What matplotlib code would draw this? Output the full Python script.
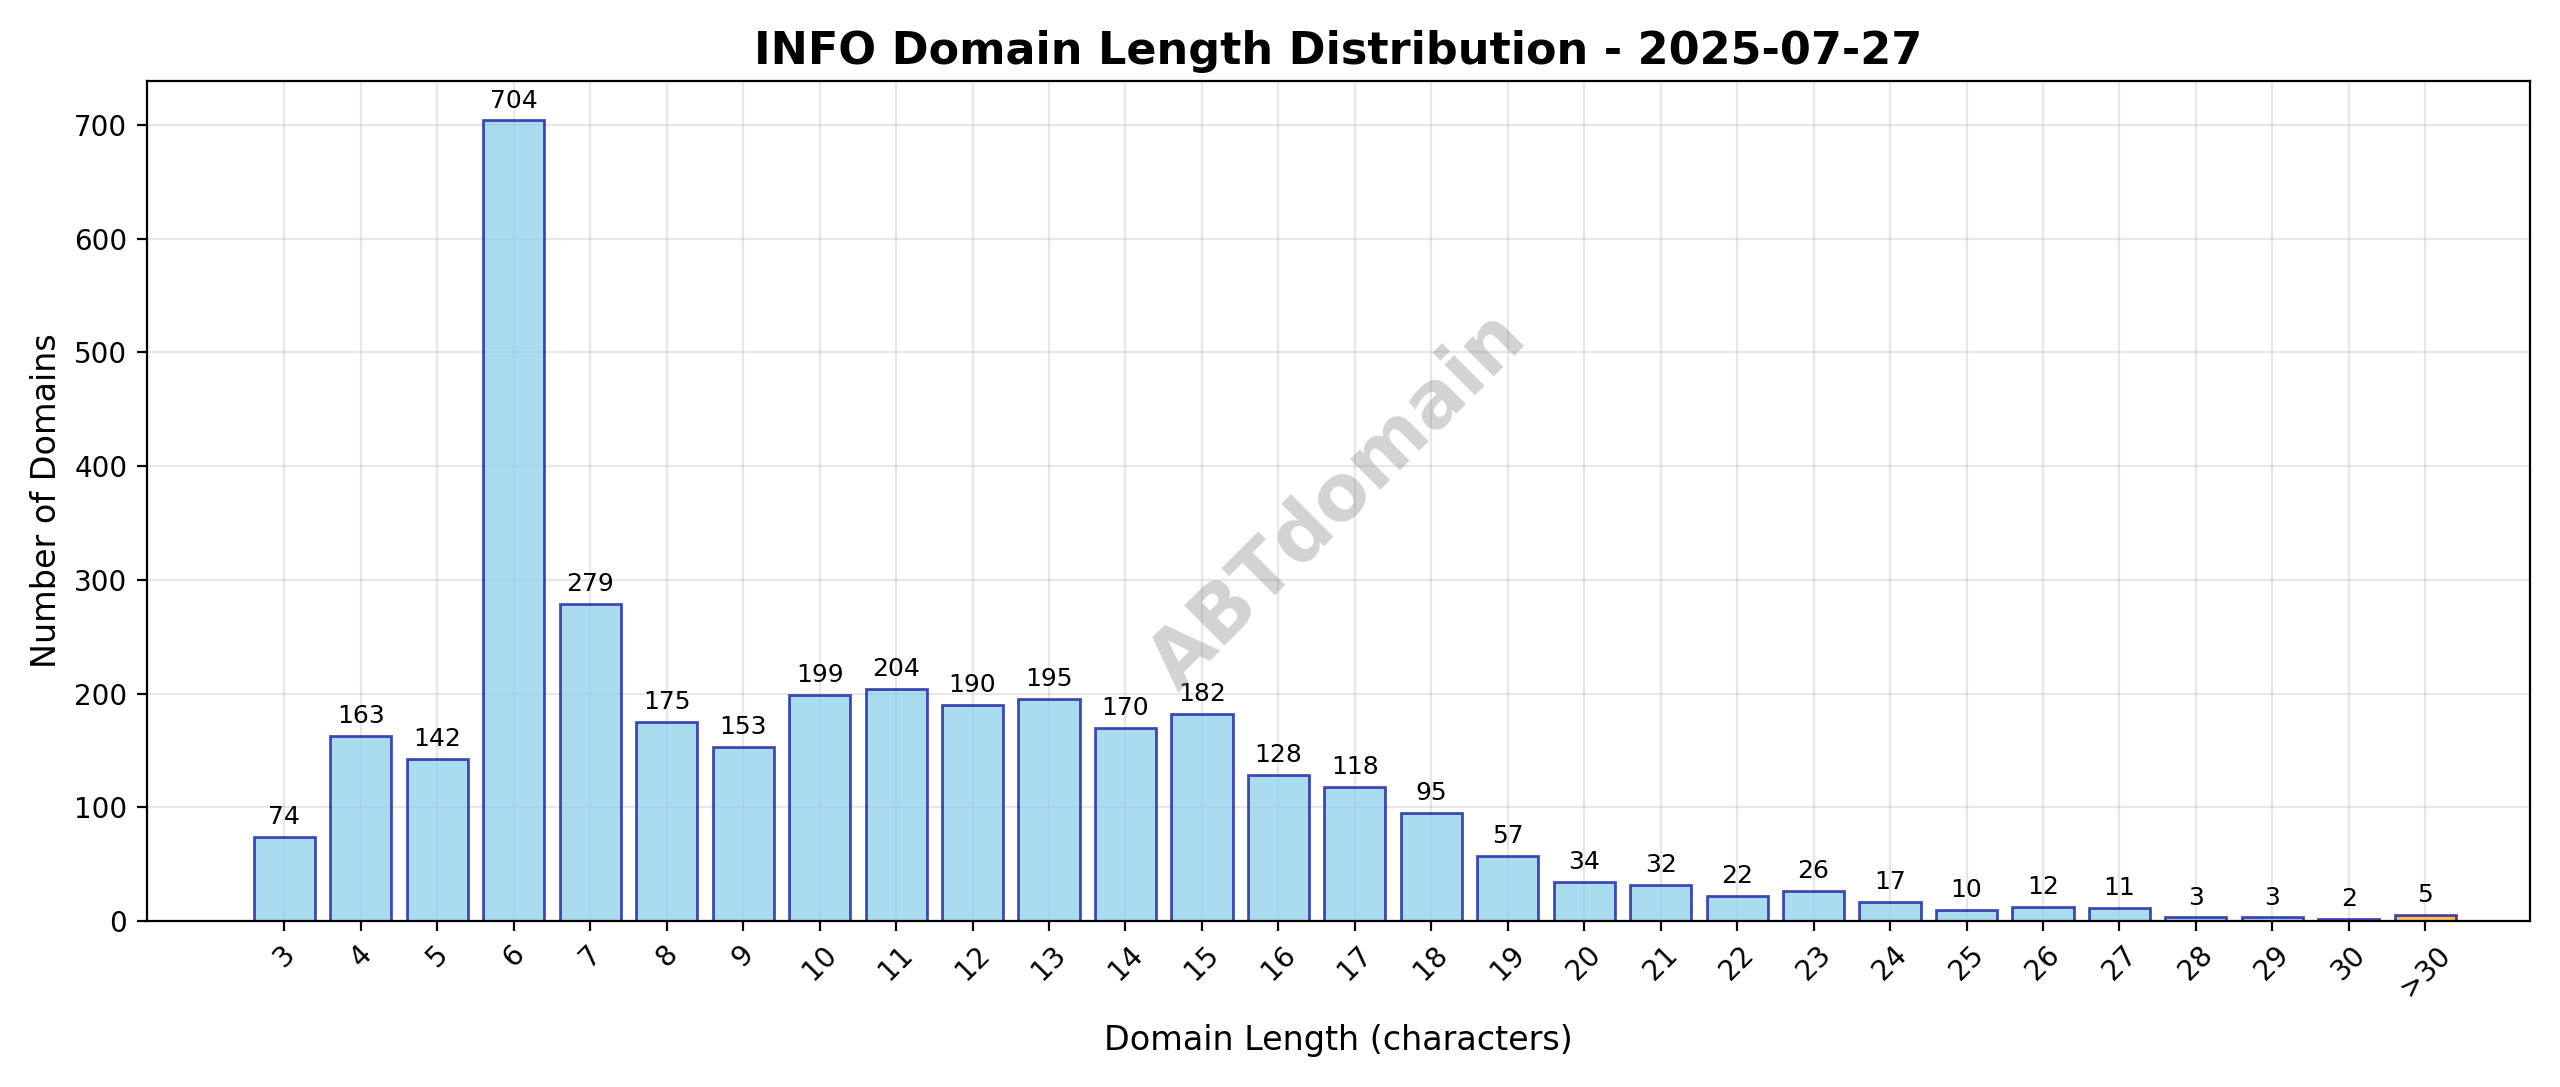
import matplotlib
matplotlib.use("Agg")
import matplotlib.pyplot as plt

lengths = ["3", "4", "5", "6", "7", "8", "9", "10", "11", "12", "13", "14", "15", "16",
           "17", "18", "19", "20", "21", "22", "23", "24", "25", "26", "27", "28", "29", "30", ">30"]
counts = [74, 163, 142, 704, 279, 175, 153, 199, 204, 190, 195, 170, 182, 128,
          118, 95, 57, 34, 32, 22, 26, 17, 10, 12, 11, 3, 3, 2, 5]

fig, ax = plt.subplots(figsize=(12.8, 5.435), dpi=200)
pos = list(range(len(lengths)))
colors = ["skyblue"] * (len(lengths) - 1) + ["orange"]
bars = ax.bar(pos, counts, color=colors, alpha=0.7, linewidth=1)
for b in bars:
    b.set_edgecolor((0.0, 0.0, 0.6, 0.7))

for x, c in zip(pos, counts):
    ax.text(x, c + 7, str(c), ha="center", va="bottom", fontsize=9)

ax.set_xticks(pos)
ax.set_xticklabels(lengths, rotation=45)
ax.set_xlim(-1.8, 29.37)
ax.set_ylim(0, 739)
ax.set_xlabel("Domain Length (characters)", fontsize=12, labelpad=8)
ax.set_ylabel("Number of Domains", fontsize=12)
ax.set_title("INFO Domain Length Distribution - 2025-07-27", fontsize=16, fontweight="bold")
ax.grid(True, alpha=0.3)
ax.set_axisbelow(True)

ax.text(0.5, 0.5, "ABTdomain", transform=ax.transAxes, fontsize=28, color="gray",
        alpha=0.35, rotation=45, ha="center", va="center", fontweight="bold")

plt.tight_layout()
plt.savefig("out.png", dpi=200)
